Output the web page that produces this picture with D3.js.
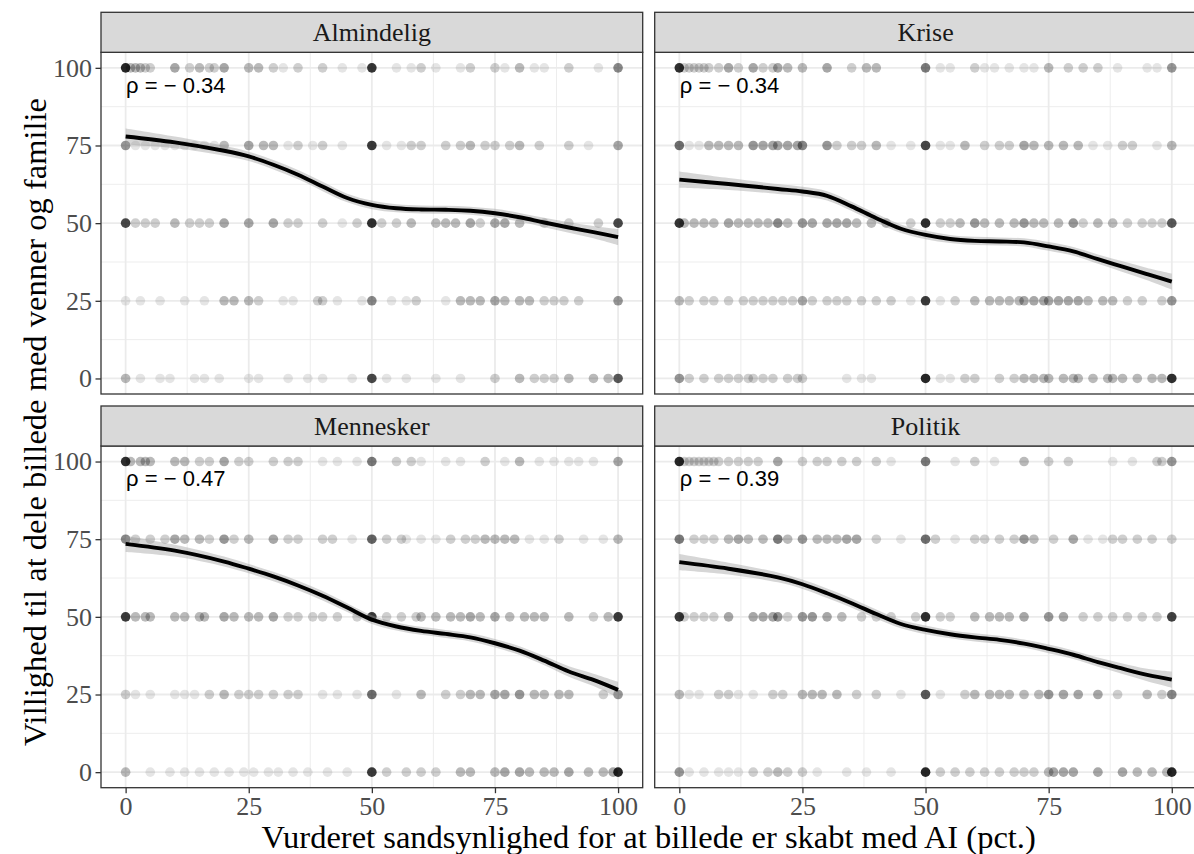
<!DOCTYPE html>
<html><head><meta charset="utf-8">
<script src="https://cdn.jsdelivr.net/npm/d3@7"></script>
<style>body{margin:0;background:#fff} svg{display:block}</style>
</head><body>
<svg id="chart" width="1194" height="854"></svg>
<script>
const facets = ["Almindelig", "Krise", "Mennesker", "Politik"];
const rhoLabels = ["ρ = − 0.34", "ρ = − 0.34", "ρ = − 0.47", "ρ = − 0.39"];
const xTicks = [0, 25, 50, 75, 100];
const yTicks = [0, 25, 50, 75, 100];
const xTitle = "Vurderet sandsynlighed for at billede er skabt med AI (pct.)";
const yTitle = "Villighed til at dele billede med venner og familie";

// smoothed curve (loess)
const smoothX = [0, 10, 20, 25, 30, 35, 40, 45, 50, 55, 60, 65, 70, 75, 80, 85, 90, 95, 100];
const smoothAlmindelig = [77.9, 76.0, 73.3, 71.5, 68.8, 65.6, 61.8, 58.1, 55.9, 54.8, 54.4, 54.3, 54.0, 53.2, 51.9, 50.2, 48.6, 47.1, 45.5];
const smoothKrise = [64.0, 62.6, 61.0, 60.2, 58.8, 55.4, 51.6, 48.2, 46.2, 44.9, 44.3, 44.1, 43.8, 42.5, 40.9, 38.4, 36.0, 33.6, 31.2];
const smoothMennesker = [73.5, 71.3, 67.8, 65.5, 63.0, 60.1, 56.8, 53.0, 49.1, 46.9, 45.5, 44.5, 43.4, 41.5, 39.1, 35.9, 32.4, 29.7, 26.5];
const smoothPolitik = [67.6, 65.5, 62.7, 60.5, 57.6, 54.4, 50.9, 47.7, 45.8, 44.4, 43.4, 42.6, 41.4, 39.7, 37.8, 35.4, 33.3, 31.3, 29.8];
const smoothSE = [2.6, 1.9, 1.6, 1.5, 1.5, 1.5, 1.5, 1.4, 1.4, 1.3, 1.3, 1.3, 1.3, 1.4, 1.4, 1.5, 1.7, 2.0, 2.6];

// points: [x, y, number of overlapping responses]
const pointsAlmindelig = [
 [0,100,18],[1,100,3],[2,100,3],[3,100,3],[4,100,2],[5,100,2],[10,100,4],[13,100,2],[15,100,3],[17,100,2],[18,100,2],[20,100,4],[25,100,3],[27,100,3],[30,100,2],[32,100,1],[35,100,2],[40,100,2],[44,100,1],[48,100,1],[50,100,15],[55,100,1],[58,100,1],[60,100,2],[63,100,1],[68,100,1],[70,100,2],[75,100,2],[77,100,1],[80,100,3],[83,100,1],[85,100,1],[90,100,2],[96,100,1],[100,100,6],
 [0,75,5],[2,75,1],[4,75,1],[6,75,1],[8,75,1],[10,75,1],[12,75,1],[14,75,1],[16,75,1],[18,75,1],[20,75,3],[25,75,4],[28,75,3],[30,75,3],[33,75,1],[35,75,2],[38,75,1],[40,75,2],[44,75,1],[50,75,14],[53,75,1],[56,75,1],[58,75,2],[60,75,2],[65,75,2],[68,75,2],[70,75,3],[73,75,2],[75,75,2],[78,75,2],[80,75,3],[84,75,2],[90,75,2],[94,75,1],[100,75,4],
 [0,50,12],[2,50,2],[4,50,2],[6,50,2],[10,50,3],[13,50,2],[15,50,2],[17,50,2],[20,50,4],[25,50,4],[30,50,4],[33,50,2],[35,50,2],[40,50,2],[44,50,1],[47,50,2],[50,50,16],[52,50,2],[55,50,2],[58,50,3],[63,50,3],[65,50,3],[67,50,3],[70,50,4],[72,50,2],[75,50,4],[77,50,4],[80,50,3],[85,50,2],[90,50,2],[96,50,2],[100,50,12],
 [0,25,1],[3,25,1],[7,25,1],[12,25,1],[16,25,1],[20,25,3],[22,25,3],[25,25,3],[27,25,2],[32,25,1],[34,25,1],[39,25,2],[40,25,2],[43,25,1],[48,25,1],[50,25,6],[54,25,1],[57,25,1],[59,25,2],[65,25,1],[68,25,3],[70,25,3],[72,25,3],[75,25,4],[77,25,3],[80,25,3],[82,25,3],[85,25,2],[87,25,2],[89,25,2],[92,25,2],[100,25,5],
 [0,0,3],[3,0,1],[7,0,1],[9,0,1],[14,0,1],[16,0,1],[19,0,1],[25,0,1],[27,0,1],[33,0,1],[37,0,1],[40,0,1],[46,0,1],[50,0,12],[53,0,1],[57,0,1],[63,0,1],[68,0,1],[75,0,2],[80,0,3],[83,0,2],[85,0,2],[87,0,2],[90,0,3],[95,0,3],[98,0,3],[100,0,10]
];
const pointsKrise = [
 [0,100,16],[1,100,2],[2,100,2],[3,100,2],[4,100,2],[5,100,2],[6,100,2],[8,100,2],[10,100,4],[12,100,2],[15,100,4],[17,100,2],[19,100,2],[20,100,4],[22,100,3],[25,100,3],[30,100,4],[35,100,2],[38,100,3],[40,100,3],[50,100,7],[53,100,1],[55,100,1],[60,100,2],[62,100,1],[64,100,1],[67,100,1],[70,100,1],[72,100,1],[75,100,3],[79,100,2],[82,100,2],[85,100,2],[89,100,1],[95,100,1],[97,100,1],[100,100,5],
 [0,75,8],[2,75,1],[4,75,1],[6,75,3],[8,75,3],[10,75,3],[12,75,3],[15,75,5],[17,75,4],[19,75,4],[20,75,4],[22,75,4],[24,75,4],[25,75,6],[30,75,5],[32,75,2],[35,75,2],[37,75,2],[40,75,3],[43,75,1],[47,75,1],[50,75,12],[53,75,1],[55,75,1],[58,75,3],[62,75,2],[65,75,2],[67,75,2],[70,75,4],[72,75,3],[75,75,3],[78,75,3],[81,75,3],[84,75,1],[87,75,1],[90,75,2],[92,75,2],[97,75,1],[100,75,3],
 [0,50,15],[1,50,3],[3,50,3],[5,50,3],[7,50,3],[10,50,4],[12,50,3],[14,50,3],[16,50,3],[18,50,3],[20,50,6],[22,50,3],[25,50,5],[27,50,4],[30,50,4],[32,50,4],[34,50,4],[36,50,3],[39,50,3],[42,50,3],[47,50,2],[50,50,16],[53,50,2],[55,50,2],[57,50,3],[60,50,5],[62,50,3],[65,50,3],[68,50,3],[70,50,5],[72,50,3],[74,50,3],[77,50,3],[80,50,5],[82,50,2],[85,50,3],[88,50,3],[91,50,2],[94,50,2],[96,50,2],[98,50,2],[100,50,10],
 [0,25,3],[2,25,2],[5,25,2],[7,25,2],[10,25,2],[13,25,2],[15,25,2],[17,25,2],[19,25,2],[21,25,2],[23,25,2],[25,25,4],[27,25,2],[30,25,2],[32,25,2],[34,25,2],[37,25,2],[40,25,2],[43,25,2],[47,25,1],[50,25,14],[53,25,1],[56,25,2],[60,25,3],[63,25,3],[65,25,3],[67,25,3],[69,25,3],[70,25,4],[72,25,4],[74,25,4],[75,25,4],[77,25,4],[79,25,4],[81,25,4],[83,25,3],[86,25,3],[88,25,3],[91,25,2],[94,25,2],[98,25,2],[100,25,5],
 [0,0,5],[2,0,2],[5,0,2],[8,0,2],[10,0,2],[12,0,2],[14,0,2],[15,0,2],[17,0,2],[19,0,2],[22,0,2],[24,0,2],[25,0,2],[34,0,1],[37,0,1],[39,0,1],[50,0,18],[53,0,1],[55,0,1],[58,0,2],[60,0,2],[65,0,2],[68,0,2],[70,0,3],[72,0,3],[74,0,3],[75,0,3],[78,0,3],[80,0,3],[81,0,3],[84,0,3],[87,0,3],[88,0,3],[90,0,3],[93,0,3],[96,0,3],[98,0,3],[100,0,16]
];
const pointsMennesker = [
 [0,100,16],[1,100,3],[3,100,3],[4,100,3],[5,100,3],[10,100,3],[12,100,3],[15,100,2],[17,100,2],[20,100,4],[23,100,2],[25,100,2],[30,100,2],[33,100,2],[35,100,2],[40,100,1],[43,100,1],[47,100,1],[50,100,7],[55,100,2],[58,100,2],[60,100,1],[65,100,1],[68,100,1],[73,100,2],[77,100,1],[80,100,3],[84,100,1],[87,100,1],[90,100,1],[92,100,1],[95,100,1],[100,100,4],
 [0,75,6],[2,75,2],[5,75,2],[8,75,2],[10,75,4],[12,75,3],[15,75,3],[17,75,2],[20,75,5],[22,75,2],[25,75,3],[30,75,4],[33,75,2],[35,75,2],[40,75,2],[42,75,2],[46,75,1],[50,75,9],[53,75,2],[56,75,2],[57,75,1],[60,75,1],[63,75,1],[66,75,2],[69,75,2],[71,75,2],[73,75,3],[75,75,3],[77,75,3],[79,75,3],[82,75,1],[85,75,1],[88,75,2],[93,75,1],[97,75,1],[100,75,3],
 [0,50,14],[2,50,3],[4,50,3],[5,50,3],[10,50,3],[12,50,3],[15,50,3],[16,50,3],[20,50,4],[22,50,3],[25,50,3],[27,50,3],[30,50,4],[33,50,2],[35,50,2],[38,50,2],[40,50,2],[43,50,2],[47,50,2],[50,50,14],[53,50,2],[56,50,2],[59,50,2],[60,50,3],[63,50,3],[66,50,3],[68,50,3],[70,50,4],[72,50,3],[75,50,4],[78,50,3],[81,50,3],[83,50,3],[85,50,3],[90,50,3],[95,50,2],[98,50,3],[100,50,14],
 [0,25,2],[2,25,1],[5,25,1],[10,25,1],[12,25,1],[14,25,1],[17,25,2],[20,25,3],[23,25,2],[25,25,2],[27,25,2],[30,25,2],[33,25,2],[35,25,2],[40,25,1],[43,25,1],[47,25,1],[50,25,8],[55,25,1],[60,25,3],[65,25,2],[68,25,2],[70,25,3],[72,25,3],[75,25,4],[77,25,4],[80,25,5],[83,25,3],[85,25,3],[88,25,3],[90,25,3],[97,25,2],[100,25,5],
 [0,0,3],[5,0,1],[9,0,1],[12,0,1],[15,0,1],[18,0,1],[21,0,1],[24,0,1],[26,0,1],[29,0,1],[31,0,1],[34,0,1],[37,0,1],[41,0,1],[45,0,1],[50,0,14],[53,0,2],[57,0,2],[60,0,2],[63,0,2],[68,0,3],[70,0,3],[75,0,3],[77,0,4],[80,0,4],[82,0,3],[85,0,3],[87,0,3],[90,0,4],[94,0,3],[97,0,3],[99,0,4],[100,0,18]
];
const pointsPolitik = [
 [0,100,18],[1,100,2],[2,100,2],[3,100,2],[4,100,2],[5,100,2],[6,100,2],[7,100,2],[8,100,2],[10,100,2],[12,100,2],[14,100,2],[16,100,2],[20,100,4],[25,100,2],[28,100,2],[30,100,2],[33,100,2],[36,100,2],[40,100,2],[43,100,1],[50,100,7],[56,100,1],[60,100,2],[64,100,1],[70,100,3],[75,100,2],[79,100,2],[88,100,1],[92,100,1],[97,100,2],[98,100,2],[100,100,5],
 [0,75,7],[3,75,2],[5,75,2],[7,75,2],[10,75,3],[12,75,4],[14,75,3],[17,75,3],[20,75,7],[22,75,3],[25,75,5],[28,75,3],[30,75,3],[32,75,3],[34,75,4],[36,75,4],[40,75,2],[45,75,1],[50,75,8],[52,75,2],[56,75,1],[60,75,2],[62,75,2],[65,75,2],[68,75,2],[70,75,5],[72,75,3],[76,75,2],[80,75,4],[83,75,1],[86,75,1],[88,75,2],[90,75,2],[93,75,2],[96,75,2],[100,75,2],
 [0,50,14],[1,50,2],[3,50,2],[5,50,2],[7,50,2],[10,50,4],[15,50,4],[17,50,4],[19,50,4],[20,50,5],[22,50,2],[25,50,5],[27,50,5],[30,50,4],[33,50,3],[37,50,2],[40,50,2],[43,50,2],[48,50,2],[50,50,16],[53,50,2],[55,50,2],[60,50,3],[63,50,3],[65,50,3],[67,50,3],[70,50,4],[75,50,5],[78,50,4],[82,50,2],[85,50,2],[88,50,2],[91,50,2],[94,50,2],[97,50,2],[100,50,13],
 [0,25,3],[2,25,1],[4,25,1],[8,25,2],[10,25,2],[12,25,1],[15,25,1],[19,25,2],[21,25,2],[25,25,3],[27,25,3],[29,25,3],[32,25,3],[36,25,2],[40,25,2],[45,25,1],[50,25,10],[53,25,1],[58,25,2],[60,25,3],[63,25,3],[65,25,3],[67,25,3],[70,25,3],[73,25,3],[75,25,5],[78,25,4],[81,25,4],[85,25,4],[89,25,2],[95,25,3],[98,25,2],[100,25,6],
 [0,0,5],[2,0,1],[5,0,1],[8,0,1],[10,0,1],[12,0,1],[15,0,2],[18,0,2],[20,0,3],[22,0,2],[25,0,2],[28,0,1],[34,0,1],[38,0,1],[43,0,1],[50,0,18],[53,0,2],[56,0,2],[59,0,2],[62,0,2],[65,0,2],[68,0,2],[70,0,2],[72,0,2],[75,0,3],[76,0,4],[78,0,4],[80,0,4],[85,0,4],[90,0,4],[93,0,3],[96,0,3],[99,0,3],[100,0,18]
];

const smoothSeries = [smoothAlmindelig, smoothKrise, smoothMennesker, smoothPolitik];
const pointSeries = [pointsAlmindelig, pointsKrise, pointsMennesker, pointsPolitik];

const svg = d3.select("#chart");
const serif = "'Liberation Serif','Times New Roman',serif";
const sans = "'Liberation Sans',Arial,sans-serif";

const colX = [101, 654.7], panelW = 541.7;
const rowY = [52.3, 446], panelH = 341.7, stripH = 40;
const minorTicks = [12.5, 37.5, 62.5, 87.5];
const curve = d3.curveCatmullRom.alpha(0.5);

facets.forEach((name, i) => {
  const col = i % 2, row = Math.floor(i / 2);
  const x0 = colX[col], y0 = rowY[row];
  const x = d3.scaleLinear().domain([-5, 105]).range([x0, x0 + panelW]);
  const y = d3.scaleLinear().domain([-5, 105]).range([y0 + panelH, y0]);
  const g = svg.append("g");
  const clipId = "clip" + i;
  svg.append("clipPath").attr("id", clipId).append("rect")
    .attr("x", x0).attr("y", y0).attr("width", panelW).attr("height", panelH);
  g.append("rect").attr("x", x0).attr("y", y0).attr("width", panelW).attr("height", panelH).attr("fill", "#fff");
  // minor grid
  g.selectAll(".mx").data(minorTicks).join("line")
    .attr("x1", d => x(d)).attr("x2", d => x(d)).attr("y1", y0).attr("y2", y0 + panelH)
    .attr("stroke", "#EBEBEB").attr("stroke-width", 0.9);
  g.selectAll(".my").data(minorTicks).join("line")
    .attr("y1", d => y(d)).attr("y2", d => y(d)).attr("x1", x0).attr("x2", x0 + panelW)
    .attr("stroke", "#EBEBEB").attr("stroke-width", 0.9);
  // major grid
  g.selectAll(".Mx").data(xTicks).join("line")
    .attr("x1", d => x(d)).attr("x2", d => x(d)).attr("y1", y0).attr("y2", y0 + panelH)
    .attr("stroke", "#EBEBEB").attr("stroke-width", 1.8);
  g.selectAll(".My").data(yTicks).join("line")
    .attr("y1", d => y(d)).attr("y2", d => y(d)).attr("x1", x0).attr("x2", x0 + panelW)
    .attr("stroke", "#EBEBEB").attr("stroke-width", 1.8);

  const inner = g.append("g").attr("clip-path", `url(#${clipId})`);
  // points
  inner.selectAll("circle").data(pointSeries[i]).join("circle")
    .attr("cx", d => x(d[0])).attr("cy", d => y(d[1])).attr("r", 4.8)
    .attr("fill", "#000").attr("fill-opacity", d => 1 - Math.pow(0.9, d[2]));
  // band + line
  const sm = smoothX.map((xv, k) => ({x: xv, y: smoothSeries[i][k], se: smoothSE[k]}));
  inner.append("path").datum(sm)
    .attr("d", d3.area().x(d => x(d.x)).y0(d => y(d.y - d.se)).y1(d => y(d.y + d.se)).curve(curve))
    .attr("fill", "#999999").attr("fill-opacity", 0.4);
  inner.append("path").datum(sm)
    .attr("d", d3.line().x(d => x(d.x)).y(d => y(d.y)).curve(curve))
    .attr("fill", "none").attr("stroke", "#000").attr("stroke-width", 3.9);
  // rho label
  g.append("text").attr("x", x(0) + 0.5).attr("y", y(92)).text(rhoLabels[i])
    .attr("font-family", sans).attr("font-size", 22).attr("fill", "#000");
  // border
  g.append("rect").attr("x", x0).attr("y", y0).attr("width", panelW).attr("height", panelH)
    .attr("fill", "none").attr("stroke", "#333333").attr("stroke-width", 1.3);
  // strip
  g.append("rect").attr("x", x0).attr("y", y0 - stripH).attr("width", panelW).attr("height", stripH)
    .attr("fill", "#D9D9D9").attr("stroke", "#333333").attr("stroke-width", 1.3);
  g.append("text").attr("x", x0 + panelW / 2).attr("y", y0 - stripH / 2 + 9)
    .attr("text-anchor", "middle").attr("font-family", serif).attr("font-size", 26)
    .attr("fill", "#1A1A1A").text(name);

  // axes
  if (col === 0) {
    const ax = g.append("g").attr("transform", `translate(${x0},0)`)
      .call(d3.axisLeft(y).tickValues(yTicks).tickSize(5.5).tickPadding(3.5));
    styleAxis(ax);
  }
  if (row === 1) {
    const ax = g.append("g").attr("transform", `translate(0,${y0 + panelH})`)
      .call(d3.axisBottom(x).tickValues(xTicks).tickSize(5.5).tickPadding(3));
    styleAxis(ax);
  }
});

function styleAxis(ax) {
  ax.select(".domain").remove();
  ax.selectAll(".tick line").attr("stroke", "#333333").attr("stroke-width", 1.3);
  ax.selectAll(".tick text").attr("font-family", serif).attr("font-size", 26).attr("fill", "#4D4D4D");
}

svg.append("text").attr("x", (colX[0] + colX[1] + panelW) / 2).attr("y", 848)
  .attr("text-anchor", "middle").attr("font-family", serif).attr("font-size", 32.5)
  .attr("fill", "#000").text(xTitle);
svg.append("text").attr("transform", `translate(46,${(rowY[0] - stripH + rowY[1] + panelH) / 2 + 22}) rotate(-90)`)
  .attr("text-anchor", "middle").attr("font-family", serif).attr("font-size", 32.5)
  .attr("fill", "#000").text(yTitle);
</script>
</body></html>
